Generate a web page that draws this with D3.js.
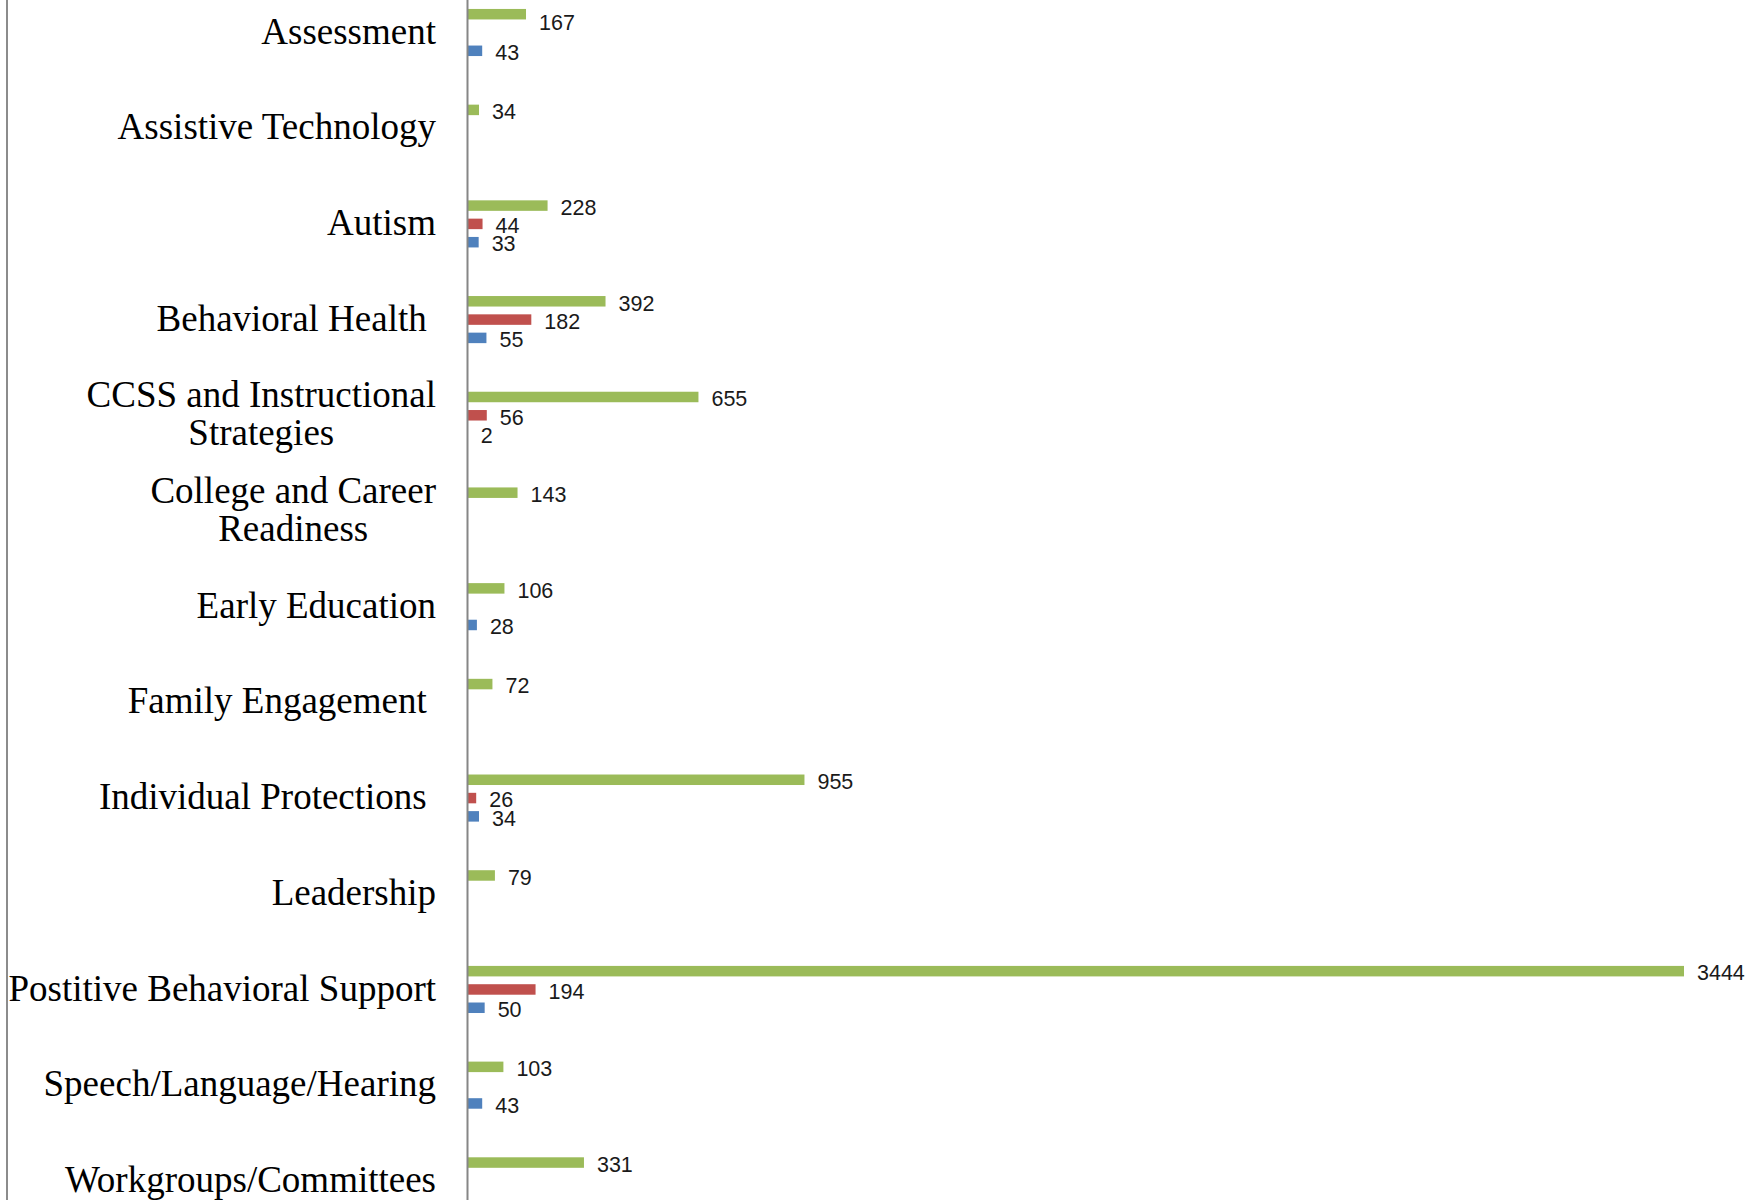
<!DOCTYPE html>
<html>
<head>
<meta charset="utf-8">
<script src="https://cdn.jsdelivr.net/npm/d3@7"></script>
<style>
  html, body { margin: 0; padding: 0; background: #ffffff; }
  svg { display: block; }
</style>
</head>
<body>
<svg id="chart" width="1758" height="1200"></svg>
<script>
// ---- data ----
const categories = [
  "Assessment",
  "Assistive Technology",
  "Autism",
  "Behavioral Health ",
  "CCSS and Instructional|Strategies",
  "College and Career|Readiness",
  "Early Education",
  "Family Engagement ",
  "Individual Protections ",
  "Leadership",
  "Postitive Behavioral Support",
  "Speech/Language/Hearing",
  "Workgroups/Committees"
];
const seriesNames = ["Series A", "Series B", "Series C"];
const seriesColors = ["#9BBB59", "#C0504D", "#4F81BD"];
const seriesA = [167, 34, 228, 392, 655, 143, 106, 72, 955, 79, 3444, 103, 331];
const seriesB = [null, null, 44, 182, 56, null, null, null, 26, null, 194, null, null];
const seriesC = [43, null, 33, 55, 2, null, 28, null, 34, null, 50, 43, null];
const seriesValues = [seriesA, seriesB, seriesC];

// ---- layout ----
const W = 1758, H = 1200;
const svg = d3.select("#chart");

const y0 = d3.scaleBand().domain(categories).range([-15.35, 1228.7]).padding(0);
const y1 = d3.scalePoint().domain(seriesNames).range([-18.3, 18.3]);
const x = d3.scaleLinear().domain([0, 3444]).range([467, 1684]);
const barH = 10.5;

// left border
svg.append("line")
  .attr("x1", 7).attr("x2", 7).attr("y1", 0).attr("y2", H)
  .attr("stroke", "#8c8c8c").attr("stroke-width", 2);

// bars
const rows = [];
categories.forEach((c, i) => {
  seriesNames.forEach((s, j) => {
    const v = seriesValues[j][i];
    if (v !== null && v !== undefined) rows.push({ cat: c, series: s, j, v });
  });
});

const cy = d => y0(d.cat) + y0.bandwidth() / 2 + y1(d.series);

svg.append("g").selectAll("rect").data(rows).join("rect")
  .attr("x", x(0))
  .attr("y", d => cy(d) - barH / 2)
  .attr("width", d => x(d.v) - x(0))
  .attr("height", barH)
  .attr("fill", d => seriesColors[d.j]);

// data labels
svg.append("g").selectAll("text").data(rows).join("text")
  .attr("x", d => x(d.v) + 13)
  .attr("y", d => Math.max(cy(d) + 1.5, 22))
  .attr("dy", "0.36em")
  .attr("font-family", "'Liberation Sans', Arial, sans-serif")
  .attr("font-size", 21.5)
  .attr("fill", "#1a1a1a")
  .text(d => d.v);

// category axis line
const axis = d3.axisLeft(y0).tickSize(0).tickFormat("");
const axG = svg.append("g").attr("transform", `translate(${x(0)},0)`).call(axis);
axG.select(".domain").attr("stroke", "#868686").attr("stroke-width", 2);

// category labels
const labelRight = 436;
const lineGap = 38;
const lab = svg.append("g")
  .attr("font-family", "'Liberation Serif', 'Times New Roman', serif")
  .attr("font-size", 37)
  .attr("fill", "#000");

categories.forEach(c => {
  const lines = c.split("|");
  const center = y0(c) + y0.bandwidth() / 2;
  const g = lab.append("g");
  const texts = lines.map((ln, k) => g.append("text")
    .attr("y", center + (k - (lines.length - 1) / 2) * lineGap)
    .attr("dy", "0.3em")
    .style("white-space", "pre")
    .text(ln));
  const widths = texts.map(t => t.node().getComputedTextLength());
  const bw = Math.max(...widths);
  texts.forEach(t => t.attr("x", labelRight - bw / 2).attr("text-anchor", "middle"));
});
</script>
</body>
</html>
